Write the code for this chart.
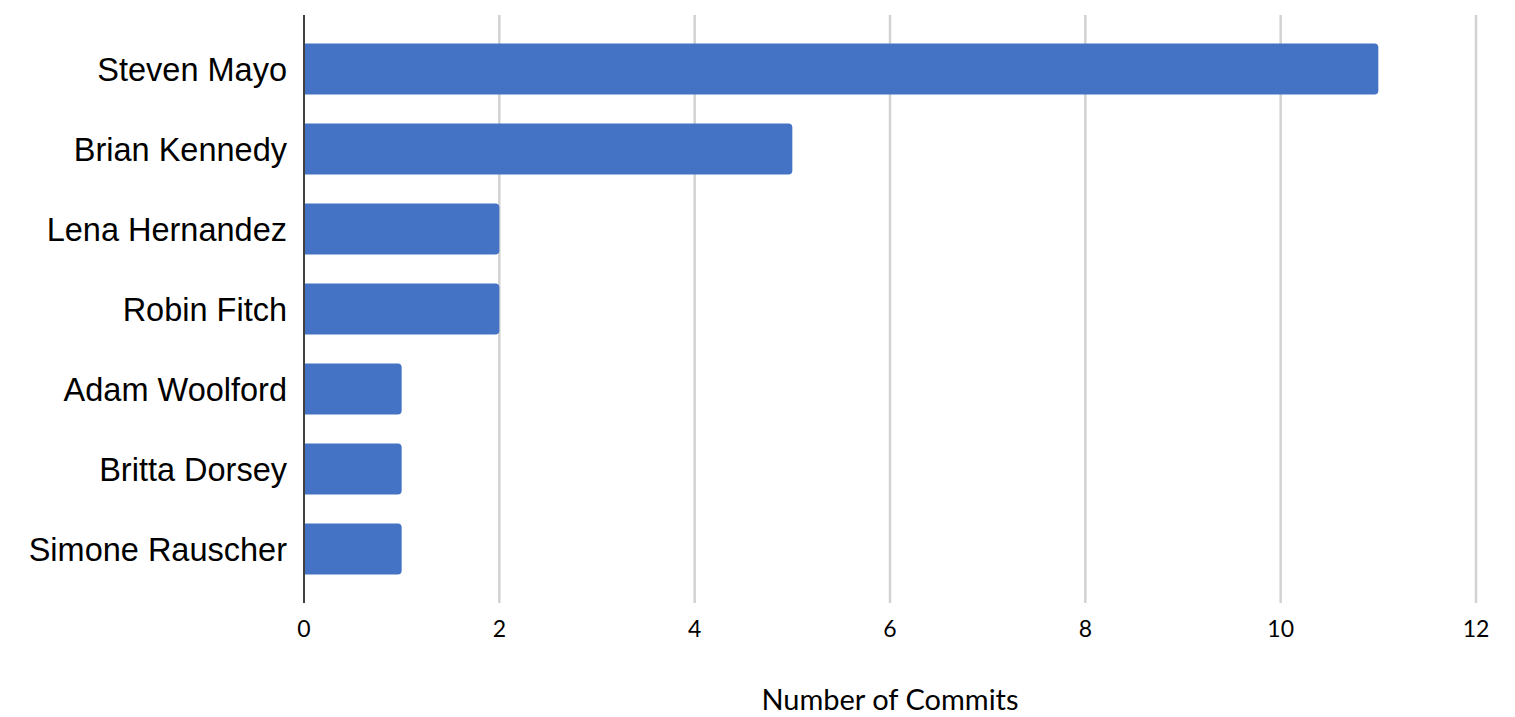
<!DOCTYPE html>
<html lang="en">
  <head>
    <meta charset="UTF-8" />
    <title>Commits per author</title>
    <script src="https://d3js.org/d3.v7.min.js"></script>
    <style>
      html, body { margin: 0; padding: 0; background: #fff; }
    </style>
  </head>
  <body>
    <div id="chart"></div>
    <script>
      const authors = [
        'Steven Mayo',
        'Brian Kennedy',
        'Lena Hernandez',
        'Robin Fitch',
        'Adam Woolford',
        'Britta Dorsey',
        'Simone Rauscher',
      ];
      const commits = [11, 5, 2, 2, 1, 1, 1];
      const xTicks = [0, 2, 4, 6, 8, 10, 12];
      const xTitle = 'Number of Commits';

      const width = 1515;
      const height = 717;
      const margin = { top: 15, right: 39, bottom: 114, left: 304 };

      const data = authors.map((name, i) => ({ name, value: commits[i] }));

      const svg = d3
        .select('#chart')
        .append('svg')
        .attr('width', width)
        .attr('height', height);

      const x = d3
        .scaleLinear()
        .domain([0, 12])
        .range([margin.left, width - margin.right]);

      const y = d3
        .scaleBand()
        .domain(authors)
        .range([margin.top, height - margin.bottom])
        .paddingInner(0.3625)
        .paddingOuter(0.356);

      // gridlines
      svg
        .append('g')
        .selectAll('line')
        .data(xTicks.filter((t) => t > 0))
        .enter()
        .append('line')
        .attr('x1', (d) => x(d))
        .attr('x2', (d) => x(d))
        .attr('y1', margin.top)
        .attr('y2', height - margin.bottom)
        .attr('stroke', '#d2d2d2')
        .attr('stroke-width', 2.5);

      // bars, rounded on the right end only
      const r = 4;
      svg
        .append('g')
        .selectAll('path')
        .data(data)
        .enter()
        .append('path')
        .attr('fill', '#4472c4')
        .attr('d', (d) => {
          const x0 = x(0);
          const x1 = x(d.value);
          const y0 = y(d.name);
          const y1 = y0 + y.bandwidth();
          return `M${x0},${y0}H${x1 - r}Q${x1},${y0} ${x1},${y0 + r}V${y1 - r}Q${x1},${y1} ${x1 - r},${y1}H${x0}Z`;
        });

      // zero axis line
      svg
        .append('line')
        .attr('x1', x(0))
        .attr('x2', x(0))
        .attr('y1', margin.top)
        .attr('y2', height - margin.bottom)
        .attr('stroke', '#404040')
        .attr('stroke-width', 2);

      // category labels
      svg
        .append('g')
        .selectAll('text')
        .data(authors)
        .enter()
        .append('text')
        .attr('x', x(0) - 17)
        .attr('y', (d) => y(d) + y.bandwidth() / 2)
        .attr('dy', '0.36em')
        .attr('text-anchor', 'end')
        .attr('font-family', 'Liberation Sans, Arial, sans-serif')
        .attr('font-size', 32.5)
        .attr('fill', '#000')
        .text((d) => d);

      // x tick labels
      svg
        .append('g')
        .selectAll('text')
        .data(xTicks)
        .enter()
        .append('text')
        .attr('x', (d) => x(d))
        .attr('y', 637)
        .attr('text-anchor', 'middle')
        .attr('font-family', 'Lato, sans-serif')
        .attr('font-size', 23)
        .attr('fill', '#000')
        .text((d) => d);

      // x axis title
      svg
        .append('text')
        .attr('x', (x(0) + x(12)) / 2)
        .attr('y', 710)
        .attr('text-anchor', 'middle')
        .attr('font-family', 'Lato, sans-serif')
        .attr('font-size', 29)
        .attr('fill', '#000')
        .text(xTitle);
    </script>
  </body>
</html>
